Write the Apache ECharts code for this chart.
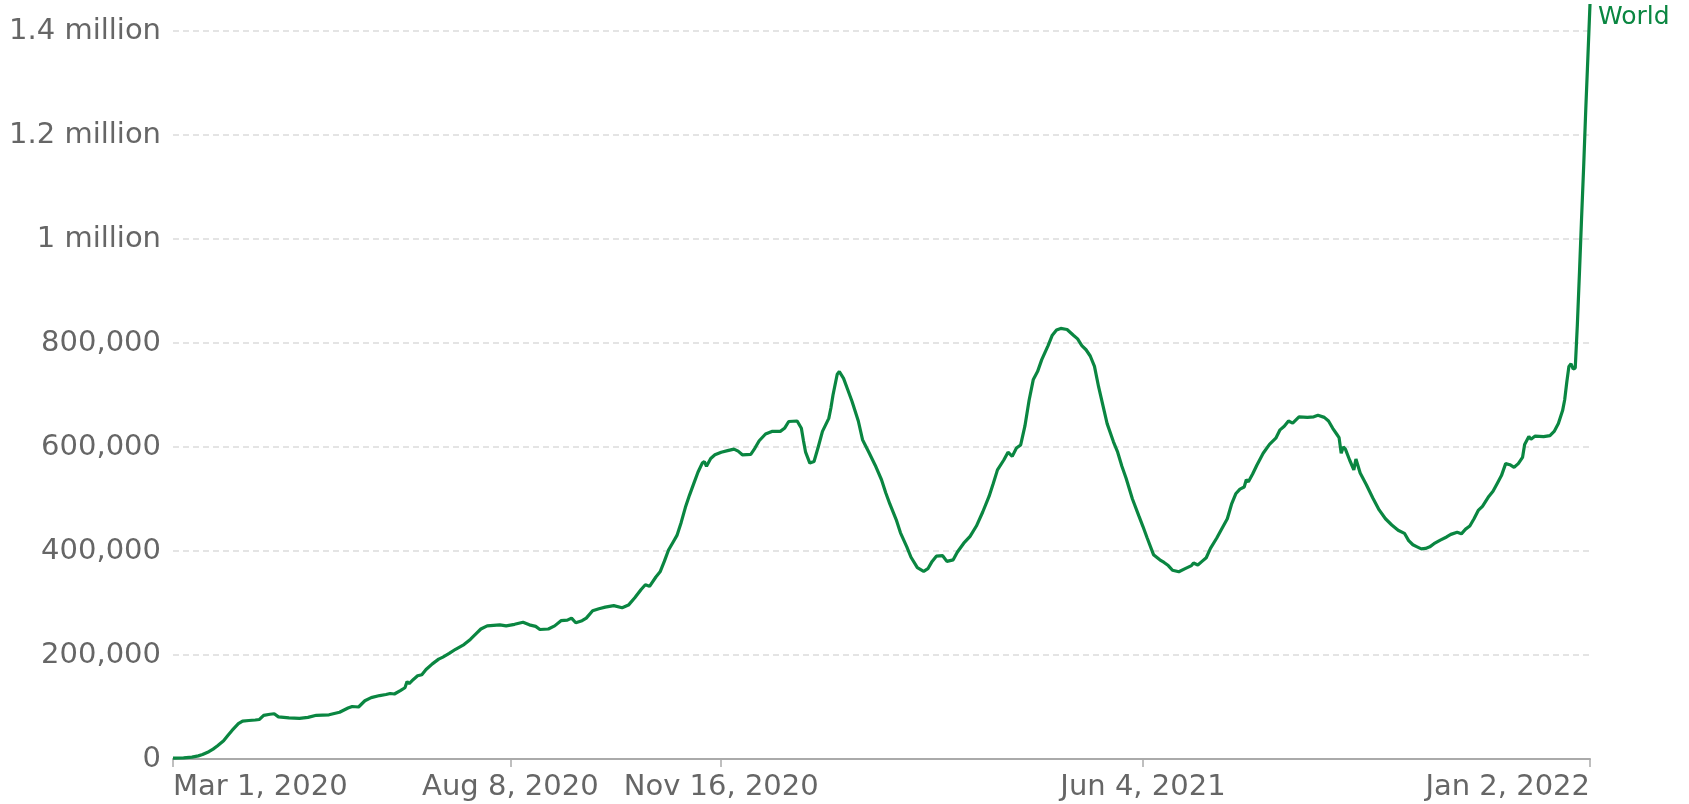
<!DOCTYPE html>
<html>
<head>
<meta charset="utf-8">
<script src="https://cdn.jsdelivr.net/npm/echarts@6/dist/echarts.min.js"></script>
<style>
  html, body { margin: 0; padding: 0; background: #fff; }
  #main { width: 1689px; height: 804px; }
</style>
</head>
<body>
<div id="main"></div>
<script>
// daily new confirmed cases, 7-day average, one row per month
var dates = [
  '2020-03-01','2020-03-06','2020-03-10','2020-03-13','2020-03-15','2020-03-18','2020-03-20','2020-03-22','2020-03-25','2020-03-27','2020-03-29',
  '2020-04-01','2020-04-03','2020-04-06','2020-04-09','2020-04-11','2020-04-13','2020-04-16','2020-04-18','2020-04-20','2020-04-25','2020-04-30',
  '2020-05-04','2020-05-08','2020-05-14','2020-05-19','2020-05-23','2020-05-25','2020-05-28','2020-05-31',
  '2020-06-03','2020-06-07','2020-06-10','2020-06-12','2020-06-14','2020-06-17','2020-06-19','2020-06-20','2020-06-21','2020-06-23','2020-06-25','2020-06-27','2020-06-29',
  '2020-07-02','2020-07-05','2020-07-07','2020-07-10','2020-07-13','2020-07-17','2020-07-20','2020-07-23','2020-07-25','2020-07-28','2020-07-31',
  '2020-08-03','2020-08-06','2020-08-10','2020-08-14','2020-08-17','2020-08-20','2020-08-22','2020-08-26','2020-08-29',
  '2020-09-01','2020-09-04','2020-09-06','2020-09-08','2020-09-11','2020-09-13','2020-09-16','2020-09-19','2020-09-22','2020-09-26','2020-09-30',
  '2020-10-03','2020-10-06','2020-10-09','2020-10-11','2020-10-13','2020-10-16','2020-10-18','2020-10-20','2020-10-22','2020-10-24','2020-10-26','2020-10-28','2020-10-30',
  '2020-11-01','2020-11-03','2020-11-05','2020-11-07','2020-11-08','2020-11-09','2020-11-11','2020-11-13','2020-11-16','2020-11-19','2020-11-22','2020-11-24','2020-11-26','2020-11-30',
  '2020-12-02','2020-12-04','2020-12-07','2020-12-10','2020-12-14','2020-12-16','2020-12-18','2020-12-22','2020-12-24','2020-12-25','2020-12-26','2020-12-28','2020-12-30',
  '2021-01-01','2021-01-03','2021-01-06','2021-01-07','2021-01-08','2021-01-10','2021-01-11','2021-01-13','2021-01-15','2021-01-17','2021-01-20','2021-01-22','2021-01-25','2021-01-28','2021-01-31',
  '2021-02-02','2021-02-04','2021-02-07','2021-02-09','2021-02-12','2021-02-14','2021-02-17','2021-02-20','2021-02-22','2021-02-24','2021-02-26',
  '2021-03-01','2021-03-03','2021-03-06','2021-03-08','2021-03-11','2021-03-14','2021-03-17','2021-03-20','2021-03-23','2021-03-25','2021-03-27','2021-03-30',
  '2021-04-01','2021-04-03','2021-04-05','2021-04-07','2021-04-09','2021-04-11','2021-04-13','2021-04-15','2021-04-17','2021-04-20','2021-04-22','2021-04-24','2021-04-26','2021-04-29',
  '2021-05-02','2021-05-04','2021-05-06','2021-05-08','2021-05-10','2021-05-12','2021-05-14','2021-05-16','2021-05-18','2021-05-21','2021-05-23','2021-05-25','2021-05-27','2021-05-30',
  '2021-06-02','2021-06-04','2021-06-06','2021-06-09','2021-06-12','2021-06-14','2021-06-16','2021-06-18','2021-06-21','2021-06-24','2021-06-27','2021-06-28','2021-06-30',
  '2021-07-02','2021-07-04','2021-07-06','2021-07-09','2021-07-11','2021-07-14','2021-07-16','2021-07-18','2021-07-20','2021-07-22','2021-07-23','2021-07-24','2021-07-26','2021-07-28','2021-07-31',
  '2021-08-03','2021-08-06','2021-08-08','2021-08-10','2021-08-12','2021-08-14','2021-08-17','2021-08-21','2021-08-24','2021-08-26','2021-08-29','2021-08-31',
  '2021-09-02','2021-09-04','2021-09-05','2021-09-06','2021-09-07','2021-09-08','2021-09-10','2021-09-12','2021-09-13','2021-09-15','2021-09-18','2021-09-21','2021-09-24','2021-09-27','2021-09-30',
  '2021-10-03','2021-10-06','2021-10-08','2021-10-10','2021-10-12','2021-10-14','2021-10-16','2021-10-18','2021-10-20','2021-10-23','2021-10-26','2021-10-28','2021-10-31',
  '2021-11-02','2021-11-04','2021-11-06','2021-11-08','2021-11-10','2021-11-12','2021-11-15','2021-11-17','2021-11-19','2021-11-21','2021-11-23','2021-11-25','2021-11-27','2021-11-29',
  '2021-12-01','2021-12-02','2021-12-04','2021-12-05','2021-12-07','2021-12-11','2021-12-14','2021-12-16','2021-12-18','2021-12-20','2021-12-21','2021-12-22','2021-12-23','2021-12-24','2021-12-25','2021-12-26','2021-12-27','2021-12-28','2021-12-29','2021-12-30','2021-12-31',
  '2022-01-01','2022-01-02'
];
var cases = [
  1500,2200,3500,6000,8500,14000,19000,25000,35000,45000,55000,
  68000,73000,74000,75000,76000,84000,86000,87000,81000,79000,78000,
  80000,84000,85000,90000,98000,101000,100000,112000,
  118000,122000,124000,126000,125000,132000,137000,149000,145000,153000,160000,162000,172000,
  183000,192000,196000,203000,211000,220000,230000,242000,250000,256000,257000,
  258000,256000,259000,263000,258000,255000,249000,250000,256000,
  266000,267000,271000,262000,266000,271000,285000,289000,292000,295000,291000,
  296000,310000,326000,335000,332000,350000,360000,380000,402000,416000,430000,455000,484000,
  508000,530000,552000,569000,572000,563000,578000,585000,590000,593000,596000,592000,585000,586000,
  598000,612000,625000,630000,630000,636000,649000,650000,636000,612000,590000,569000,572000,
  600000,630000,655000,675000,700000,740000,745000,732000,710000,688000,650000,614000,590000,565000,537000,
  512000,490000,460000,435000,408000,388000,368000,361000,366000,380000,390000,
  391000,380000,383000,398000,415000,428000,448000,475000,505000,530000,556000,575000,
  590000,582000,598000,604000,640000,690000,730000,745000,768000,795000,815000,825000,828000,826000,
  815000,808000,795000,787000,775000,755000,715000,680000,645000,610000,590000,563000,540000,500000,
  468000,447000,425000,393000,383000,378000,372000,363000,360000,366000,372000,377000,373000,
  380000,387000,405000,425000,440000,462000,490000,510000,519000,523000,537000,533000,548000,565000,588000,
  605000,617000,633000,640000,650000,646000,658000,657000,658000,661000,657000,650000,
  636000,624000,618000,588000,600000,596000,575000,556000,577000,550000,527000,502000,479000,462000,450000,
  440000,434000,420000,412000,408000,404000,405000,408000,414000,421000,427000,432000,436000,
  433000,442000,448000,462000,478000,486000,505000,515000,530000,545000,568000,566000,561000,568000,
  580000,605000,620000,615000,621000,620000,622000,630000,645000,670000,691000,725000,755000,760000,750000,752000,835000,935000,1040000,1140000,1250000,
  1350000,1452000
];
var tickDates = ['2020-03-01', '2020-08-08', '2020-11-16', '2021-06-04', '2022-01-02'];
var tickLabels = ['Mar 1, 2020', 'Aug 8, 2020', 'Nov 16, 2020', 'Jun 4, 2021', 'Jan 2, 2022'];
var seriesName = 'World';

function toTs(s) {
  var p = s.split('-');
  return new Date(+p[0], +p[1] - 1, +p[2]).getTime();
}

var points = [];
for (var i = 0; i < dates.length; i++) {
  points.push([toTs(dates[i]), cases[i]]);
}
var tickTs = tickDates.map(toTs);

var green = '#0a8641';
var font = 'DejaVu Sans';

var myChart = echarts.init(document.getElementById('main'));
var option = {
  animation: false,
  backgroundColor: '#fff',
  textStyle: { fontFamily: font },
  grid: {
    left: 173,
    right: 99,
    top: 31,
    bottom: 45,
    outerBoundsMode: 'none'
  },
  xAxis: {
    type: 'value',
    min: tickTs[0],
    max: tickTs[tickTs.length - 1],
    scale: true,
    splitLine: { show: false },
    axisLine: { show: true, lineStyle: { color: '#aaa', width: 2 } },
    axisTick: {
      show: true,
      customValues: tickTs,
      length: 8,
      lineStyle: { color: '#aaa', width: 1.5 }
    },
    axisLabel: {
      customValues: tickTs,
      hideOverlap: false,
      color: '#666',
      fontSize: 29,
      fontFamily: font,
      margin: 14,
      alignMinLabel: 'left',
      alignMaxLabel: 'right',
      formatter: function (v) {
        var k = tickTs.indexOf(v);
        return k >= 0 ? tickLabels[k] : '';
      }
    }
  },
  yAxis: {
    type: 'value',
    min: 0,
    max: 1400000,
    interval: 200000,
    axisLine: { show: false },
    axisTick: { show: false },
    splitLine: {
      show: true,
      lineStyle: { color: '#dcdcdc', width: 1.5, type: [6, 4] }
    },
    axisLabel: {
      color: '#666',
      fontSize: 29,
      fontFamily: font,
      margin: 12,
      formatter: function (v) {
        if (v >= 1000000) return (v / 1000000) + ' million';
        return v.toLocaleString('en-US');
      }
    }
  },
  series: [{
    name: seriesName,
    type: 'line',
    data: points,
    symbol: 'none',
    smooth: false,
    clip: false,
    lineStyle: { color: green, width: 3.2 },
    endLabel: {
      show: true,
      formatter: seriesName,
      color: green,
      fontSize: 25,
      fontFamily: font,
      distance: 8,
      offset: [0, 14]
    }
  }]
};
myChart.setOption(option, true);
</script>
</body>
</html>
